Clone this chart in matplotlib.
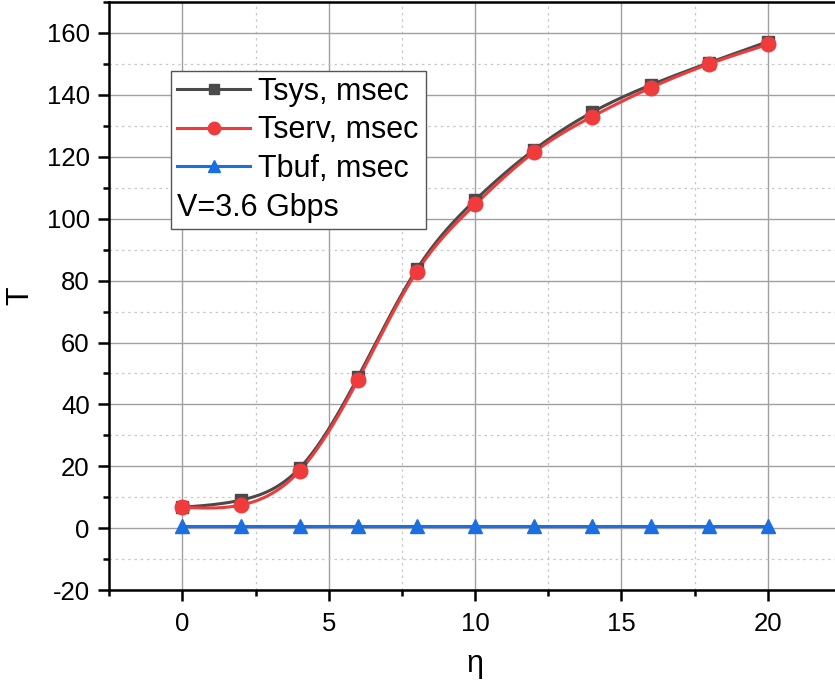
import numpy as np
import matplotlib
matplotlib.use('Agg')
import matplotlib.pyplot as plt
from matplotlib.ticker import MultipleLocator
from matplotlib.lines import Line2D

plt.rcParams['font.family'] = ['Liberation Sans', 'DejaVu Sans']
plt.rcParams['axes.unicode_minus'] = False

##########
## DATA ##
##########

eta = [0, 2, 4, 6, 8, 10, 12, 14, 16, 18, 20]
t_sys = [6.8, 9.1, 19.4, 48.9, 83.6, 106.0, 122.2, 134.4, 143.2, 150.4, 157.2]
t_serv = [6.8, 7.5, 18.5, 48.0, 82.8, 104.6, 121.4, 133.0, 142.3, 150.0, 156.3]
t_buf = [0.8, 0.8, 0.8, 0.8, 0.8, 0.8, 0.8, 0.8, 0.8, 0.8, 0.8]

labels = ['Tsys, msec', 'Tserv, msec', 'Tbuf, msec']
note = 'V=3.6 Gbps'
colors = ['#4a4a4a', '#ef3b3b', '#1b6fe0']
markers = ['s', 'o', '^']
msizes = [8.5, 10.5, 10.5]


def natural_spline(x, y, n=300):
    # plain natural cubic spline, only for drawing the smooth connecting line
    x, y = np.asarray(x, float), np.asarray(y, float)
    h = np.diff(x)
    m = len(x)
    A = np.zeros((m, m))
    b = np.zeros(m)
    A[0, 0] = A[-1, -1] = 1
    for i in range(1, m - 1):
        A[i, i - 1] = h[i - 1]
        A[i, i] = 2 * (h[i - 1] + h[i])
        A[i, i + 1] = h[i]
        b[i] = 3 * ((y[i + 1] - y[i]) / h[i] - (y[i] - y[i - 1]) / h[i - 1])
    c = np.linalg.solve(A, b)
    xs = np.linspace(x[0], x[-1], n)
    k = np.clip(np.searchsorted(x, xs) - 1, 0, m - 2)
    dx = xs - x[k]
    bb = (y[k + 1] - y[k]) / h[k] - h[k] * (2 * c[k] + c[k + 1]) / 3
    dd = (c[k + 1] - c[k]) / (3 * h[k])
    return xs, y[k] + bb * dx + c[k] * dx ** 2 + dd * dx ** 3


##############
## PLOTTING ##
##############

fig = plt.figure(figsize=(8.35, 6.89), dpi=100)
ax = fig.add_axes([0.1309, 0.1434, 0.8763, 0.8537])

handles = []
for ys, lab, col, mk, ms in zip([t_sys, t_serv, t_buf], labels, colors, markers, msizes):
    xs, ss = natural_spline(eta, ys)
    ax.plot(xs, ss, color=col, lw=2.2, zorder=3)
    ax.plot(eta, ys, linestyle='none', marker=mk, ms=ms, color=col, zorder=4)
    handles.append(Line2D([], [], color=col, lw=2.2, marker=mk, ms=ms * 0.85))

ax.set_xlim(-2.5, 22.5)
ax.set_ylim(-20, 170)
ax.xaxis.set_major_locator(MultipleLocator(5))
ax.xaxis.set_minor_locator(MultipleLocator(2.5))
ax.yaxis.set_major_locator(MultipleLocator(20))
ax.yaxis.set_minor_locator(MultipleLocator(10))

ax.grid(which='major', color='#a0a0a0', lw=1.0, ls='-', zorder=0)
ax.grid(which='minor', color='#c8c8c8', lw=0.9, ls=(0, (2, 3)), zorder=0)
ax.set_axisbelow(True)

for sp in ax.spines.values():
    sp.set_linewidth(1.8)
ax.tick_params(which='major', direction='out', length=8, width=1.8, labelsize=18.5)
ax.tick_params(which='minor', direction='out', length=4, width=1.8)
ax.tick_params(axis='x', which='major', pad=8)
ax.tick_params(axis='y', which='major', pad=6)

ax.set_xlabel('\u03b7', fontsize=22, labelpad=9)
ax.set_ylabel('T', fontsize=22, labelpad=8)

blank = Line2D([], [], color='none')
leg = ax.legend(handles + [blank], labels + [note], loc='upper left',
                bbox_to_anchor=(0.084, 0.883), borderaxespad=0, fontsize=22,
                frameon=True, fancybox=False, edgecolor='#555555', framealpha=1,
                handlelength=2.4, handletextpad=0.25, borderpad=0.2, labelspacing=0.28)
leg.get_frame().set_linewidth(1.0)
# shift the note text left so it starts where the handles start
shift = (2.4 + 0.25) * 22 * fig.dpi / 72
leg.get_texts()[3].set_position((-shift, 0))

fig.savefig('out.png', dpi=100)
